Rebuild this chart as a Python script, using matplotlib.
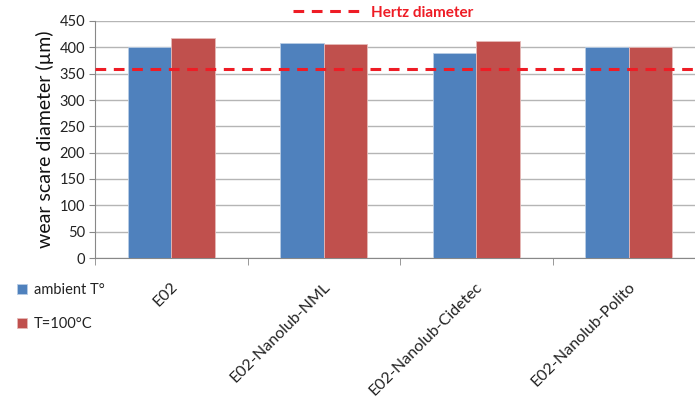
import numpy as np
import matplotlib.pyplot as plt
import matplotlib.transforms as mtransforms
from matplotlib.lines import Line2D

plt.rcParams['font.family'] = ['Lato', 'DejaVu Sans']

# data
categories = ['E02', 'E02-Nanolub-NML', 'E02-Nanolub-Cidetec', 'E02-Nanolub-Polito']
ambient = [400, 409, 390, 400]
hot = [418, 407, 412, 400]
hertz = 359
series_labels = ['ambient T°', 'T=100°C']

fig = plt.figure(figsize=(6.95, 3.97), dpi=100)
ax = fig.add_axes([95 / 695, 1 - 258 / 397, 610 / 695, 237 / 397])

x = np.arange(len(categories))
w = 0.285
b1 = ax.bar(x - w / 2, ambient, w, color='#4F81BD', edgecolor='#b9cde5', linewidth=0.6, zorder=3)
b2 = ax.bar(x + w / 2, hot, w, color='#C0504D', edgecolor='#e6b9b8', linewidth=0.6, zorder=3)
ax.axhline(hertz, color='#ee1c25', linestyle=(0, (3.5, 2.5)), linewidth=2.2, zorder=4)

ax.set_xlim(-0.5, len(categories) - 0.5)
ax.set_ylim(0, 450)
ax.set_yticks(np.arange(0, 451, 50))
ax.tick_params(axis='y', labelsize=10.5, length=4, color='#888888', labelcolor='#222222', pad=3)
ax.yaxis.grid(True, color='#b5b5b5', linewidth=1)
ax.set_axisbelow(True)

ax.set_xticks(x)
ax.set_xticklabels(categories, rotation=45, ha='right', va='center', rotation_mode='anchor',
                   fontsize=11.5, color='#222222')
ax.tick_params(axis='x', length=0, pad=19)
shift = mtransforms.ScaledTranslation(4 / 100, 0, fig.dpi_scale_trans)
for lbl in ax.get_xticklabels():
    lbl.set_transform(lbl.get_transform() + shift)
ax.set_xticks(np.arange(-0.5, len(categories), 1), minor=True)
ax.tick_params(axis='x', which='minor', length=5, color='#888888')

for s in ['top', 'right']:
    ax.spines[s].set_visible(False)
for s in ['left', 'bottom']:
    ax.spines[s].set_color('#888888')

ax.set_ylabel('wear scare diameter (µm)', fontsize=14, color='#111111', labelpad=4)

leg = fig.legend([b1, b2], series_labels, loc='upper left', bbox_to_anchor=(0.005, 0.32),
                 frameon=False, fontsize=10.5, handlelength=0.7, handleheight=0.7,
                 handletextpad=0.5, labelspacing=1.35)
for t in leg.get_texts():
    t.set_color('#222222')

hline = Line2D([], [], color='#ee1c25', linestyle=(0, (3.5, 2.5)), linewidth=2.2)
leg2 = fig.legend([hline], ['Hertz diameter'], loc='upper left', bbox_to_anchor=(0.402, 1.02),
                  frameon=False, fontsize=11, handlelength=4.6, handletextpad=0.5)
for t in leg2.get_texts():
    t.set_color('#ee1c25')
    t.set_fontweight('bold')

fig.savefig('out.png', dpi=100)
